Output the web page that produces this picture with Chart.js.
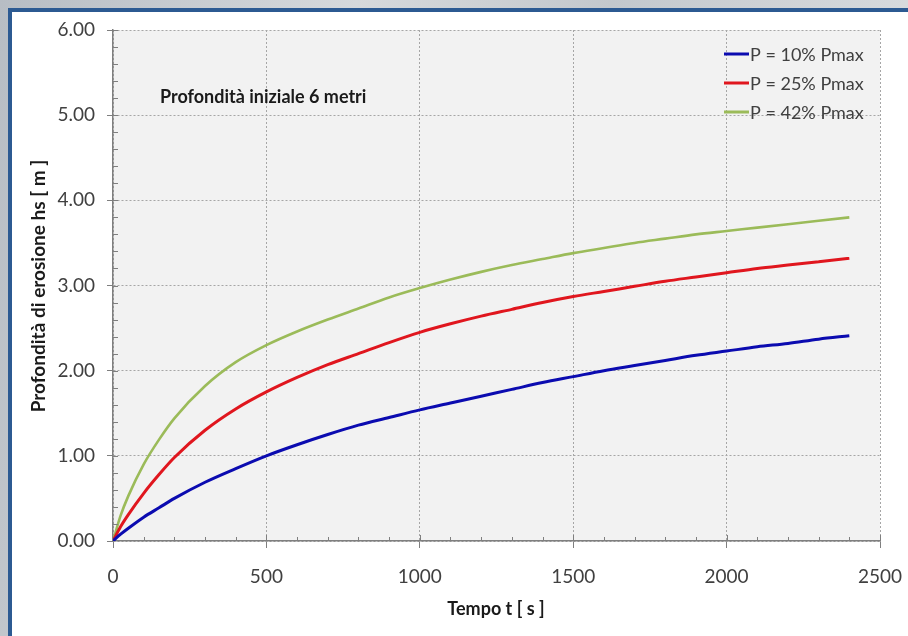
<!DOCTYPE html>
<html>
<head>
<meta charset="utf-8">
<script src="https://cdn.jsdelivr.net/npm/chart.js@4.4.1/dist/chart.umd.min.js"></script>
<style>
  html, body { margin: 0; padding: 0; }
  body {
    width: 908px; height: 636px; overflow: hidden; position: relative;
    background: linear-gradient(100deg, #b7bdc4 0%, #d6d9dc 35%, #c3c8cd 60%, #dfe1e3 100%);
  }
  #panel {
    position: absolute; left: 8px; top: 8px; width: 920px; height: 650px;
    background: #ffffff;
    border-left: 4px solid #2c5a92; border-top: 4px solid #2c5a92;
  }
  #chart { position: absolute; left: 0; top: 0; }
</style>
</head>
<body>
<div id="panel"></div>
<canvas id="chart" width="908" height="636"></canvas>
<script>
// Tempo t [s]
const times = [0, 25, 50, 100, 150, 200, 300, 400, 500, 600, 700, 800, 900, 1000,
  1100, 1200, 1300, 1400, 1500, 1600, 1700, 1800, 1900, 2000, 2100, 2200, 2300, 2400];

// Profondità di erosione hs [m]
const p10 = [0, 0.08, 0.15, 0.28, 0.39, 0.50, 0.69, 0.85, 1.00, 1.13, 1.25, 1.36, 1.45, 1.54,
  1.62, 1.70, 1.78, 1.86, 1.93, 2.00, 2.06, 2.12, 2.18, 2.23, 2.28, 2.32, 2.37, 2.41];
const p25 = [0, 0.17, 0.31, 0.56, 0.78, 0.98, 1.30, 1.55, 1.75, 1.92, 2.07, 2.20, 2.33, 2.45,
  2.55, 2.64, 2.72, 2.80, 2.87, 2.93, 2.99, 3.05, 3.10, 3.15, 3.20, 3.24, 3.28, 3.32];
const p42 = [0, 0.30, 0.53, 0.90, 1.19, 1.44, 1.82, 2.10, 2.30, 2.46, 2.60, 2.73, 2.86, 2.97,
  3.07, 3.16, 3.24, 3.31, 3.38, 3.44, 3.50, 3.55, 3.60, 3.64, 3.68, 3.72, 3.76, 3.80];

const seriesLabels = ['P = 10% Pmax', 'P = 25% Pmax', 'P = 42% Pmax'];
const seriesColors = ['#0b0bb0', '#e0161e', '#9bbb59'];

const xTicks = [0, 500, 1000, 1500, 2000, 2500];
const yTicks = [0, 1, 2, 3, 4, 5, 6];

const annotationText = 'Profondità iniziale 6 metri';
const xTitle = 'Tempo t [ s ]';
const yTitle = 'Profondità di erosione hs [ m ]';

const FONT = 'Lato, "Open Sans", sans-serif';

// background, minor ticks, titles, legend
const decorPlugin = {
  id: 'decor',
  beforeDraw(chart) {
    const { ctx, chartArea: a } = chart;
    ctx.save();
    ctx.fillStyle = '#f2f2f2';
    ctx.fillRect(a.left, a.top, a.right - a.left, a.bottom - a.top);
    ctx.restore();
  },
  afterDraw(chart) {
    const { ctx, chartArea: a, scales } = chart;
    const xs = scales.x, ys = scales.y;
    ctx.save();
    ctx.strokeStyle = '#7f7f7f';
    ctx.lineWidth = 1;
    ctx.beginPath();
    // ticks on the x axis, pointing into the plot
    for (let t = 100; t <= 2500; t += 100) {
      const x = Math.round(xs.getPixelForValue(t)) + 0.5;
      const len = t % 500 === 0 ? 6 : 4;
      ctx.moveTo(x, a.bottom);
      ctx.lineTo(x, a.bottom - len);
    }
    // ticks on the y axis
    for (let i = 1; i <= 30; i++) {
      const y = Math.round(ys.getPixelForValue(i / 5)) + 0.5;
      ctx.moveTo(a.left, y);
      ctx.lineTo(a.left + 5, y);
    }
    ctx.stroke();

    // annotation
    ctx.fillStyle = '#1a1a1a';
    ctx.font = 'bold 18px ' + FONT;
    ctx.textAlign = 'left';
    ctx.textBaseline = 'middle';
    ctx.fillText(annotationText, 160, 97);

    // axis titles
    ctx.font = 'bold 18px ' + FONT;
    ctx.textAlign = 'center';
    ctx.fillText(xTitle, 496, 609);
    ctx.save();
    ctx.translate(39, 286);
    ctx.rotate(-Math.PI / 2);
    ctx.font = 'bold 19px ' + FONT;
    ctx.fillText(yTitle, 0, 0);
    ctx.restore();

    // legend inside the plot, top right
    ctx.font = '18px ' + FONT;
    ctx.textAlign = 'left';
    chart.data.datasets.forEach((ds, i) => {
      const y = 54 + i * 29;
      ctx.strokeStyle = ds.borderColor;
      ctx.lineWidth = 3;
      ctx.beginPath();
      ctx.moveTo(724, y);
      ctx.lineTo(749, y);
      ctx.stroke();
      ctx.fillStyle = '#404040';
      ctx.fillText(ds.label, 750, y + 1);
    });
    ctx.restore();
  }
};

const toPoints = arr => times.map((t, i) => ({ x: t, y: arr[i] }));

new Chart(document.getElementById('chart'), {
  type: 'line',
  data: {
    datasets: [p10, p25, p42].map((arr, i) => ({
      label: seriesLabels[i],
      data: toPoints(arr),
      borderColor: seriesColors[i],
      borderWidth: i === 2 ? 2.6 : 3,
      pointRadius: 0,
      cubicInterpolationMode: 'monotone',
      fill: false
    }))
  },
  options: {
    responsive: false,
    animation: false,
    layout: { padding: { left: 0, top: 30, right: 28, bottom: 0 } },
    plugins: { legend: { display: false }, tooltip: { enabled: false } },
    scales: {
      x: {
        type: 'linear',
        min: 0, max: 2500,
        afterBuildTicks: s => { s.ticks = xTicks.map(v => ({ value: v })); },
        afterFit: s => { s.height = 95; s.paddingLeft = 0; s.paddingRight = 0; },
        grid: { color: '#a6a6a6', lineWidth: 1, drawTicks: true, tickLength: 7, tickColor: '#7f7f7f', tickWidth: 1 },
        border: { display: true, color: '#7f7f7f', width: 1.5, dash: [2, 2] },
        ticks: { color: '#404040', font: { family: FONT, size: 19 }, padding: 17, maxRotation: 0,
          callback: v => String(v) }
      },
      y: {
        type: 'linear',
        min: 0, max: 6,
        afterBuildTicks: s => { s.ticks = yTicks.map(v => ({ value: v })); },
        afterFit: s => { s.width = 113; s.paddingTop = 0; s.paddingBottom = 0; },
        grid: { color: '#a6a6a6', lineWidth: 1, drawTicks: true, tickLength: 6, tickColor: '#7f7f7f', tickWidth: 1 },
        border: { display: true, color: '#7f7f7f', width: 1.5, dash: [2, 2] },
        ticks: { color: '#404040', font: { family: FONT, size: 19 }, padding: 12,
          callback: v => v.toFixed(2) }
      }
    }
  },
  plugins: [decorPlugin]
});
</script>
</body>
</html>
